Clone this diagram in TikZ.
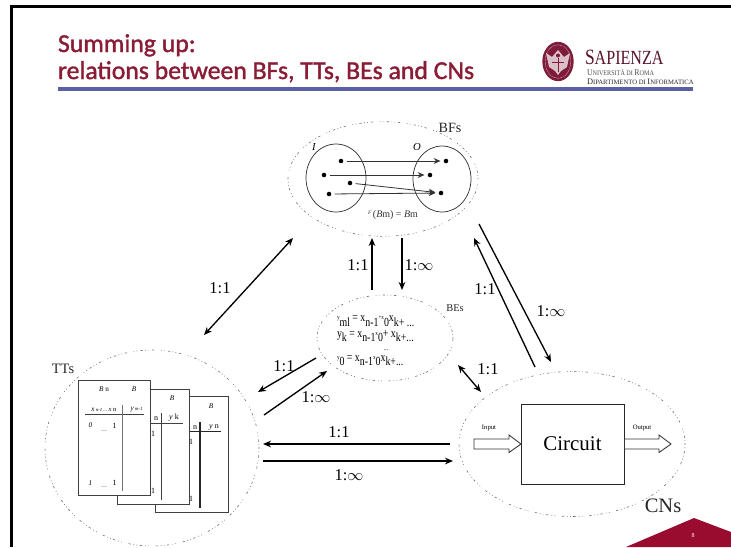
\documentclass[tikz,border=0pt]{standalone}
\usepackage{fontspec}
\setmainfont{Liberation Serif}
\newfontfamily\titlefont[FakeBold=1.4]{Carlito}
\usetikzlibrary{shapes.geometric,arrows.meta}
\definecolor{titlered}{HTML}{8A1C36}
\definecolor{sapred}{HTML}{9A0B30}
\definecolor{rulebl}{HTML}{5A60A4}
\definecolor{logored}{HTML}{7E1B3A}
\newcommand\fsz[1]{\fontsize{#1}{#1}\selectfont}
\newcommand\lo[1]{\raisebox{-3.4pt}{#1}}
\newcommand\sm[1]{\raisebox{1.2pt}{\fsz{4.5}#1}}
\newcommand\eqline[1]{\scalebox{0.86}[1.08]{#1}}
\tikzset{
  every node/.style={inner sep=0pt,outer sep=0pt},
  lbl/.style={font=\fsz{12.4}},
  dotell/.style={ellipse,draw=black!55,line width=0.45pt,dash pattern=on 0.6pt off 1.7pt on 0.6pt off 1.7pt on 1.8pt off 2.4pt on 0.6pt off 1.7pt on 0.6pt off 5pt on 1.8pt off 2pt},
  set/.style={ellipse,draw=black!80,line width=0.55pt},
  pt/.style={circle,fill=black,minimum size=3.4pt},
  maparrow/.style={-{Stealth[length=5pt,width=4.4pt]},line width=0.6pt,black!80},
  conn/.style={-{Stealth[length=6pt,width=5pt]},line width=1pt},
  conn2/.style={{Stealth[length=6pt,width=5pt]}-{Stealth[length=6pt,width=5pt]},line width=1pt},
  sheet/.style={rectangle,draw=black!75,fill=white,line width=0.6pt,anchor=north west},
  tt/.style={font=\fsz{5.4}\itshape},
  ttn/.style={font=\fsz{6}},
  eq/.style={font=\fsz{8.6},anchor=base west},
  blockarrow/.style={draw=black!80,fill=white,line width=0.65pt,line join=miter},
}
\begin{document}
\begin{tikzpicture}[x=0.75pt,y=-0.75pt]
\useasboundingbox (0,0) rectangle (731,547);
% frame
\draw[line width=1.6pt] (11.5,547) -- (11.5,6.5) -- (731,6.5);
% title
\node[anchor=base west,text=titlered,font=\titlefont\fsz{19.3}] (t1) at (58,52) {Summing up:};
\node[anchor=base west,text=titlered,font=\titlefont\fsz{19.3}] (t2) at (58,79) {relations between BFs, TTs, BEs and CNs};
\fill[rulebl] (58,87) rectangle (693,91);
% logo
\node[ellipse,fill=logored,minimum width=23.5pt,minimum height=29.5pt] (logo) at (558,61.5) {};
\draw[white!70!logored,line width=0.35pt,dash pattern=on 0.6pt off 0.5pt] (558,61.5) ellipse (12.8 and 16.8);
\fill[white!72!logored] (558,50) -- (564,57) -- (570,53) -- (567,67) -- (561,71) -- (558,75) -- (555,71) -- (549,67) -- (546,53) -- (552,57) -- cycle;
\fill[logored] (558,55.5) circle (2);
\draw[logored,line width=0.5pt] (558,58) -- (558,72) (552,62) -- (564,62);
\node[anchor=base west,font=\fsz{12.6},text=logored!70!black] (sap) at (585,64.5) {\scalebox{1.04}[1.3]{S\fsz{11.6}APIENZA}};
\node[anchor=base west,font=\fsz{6.3},text=black!70] (univ) at (587,75) {\scalebox{0.92}[1.05]{U\fsz{5}NIVERSITÀ DI \fsz{6.3}R\fsz{5}OMA}};
\node[anchor=base west,font=\fsz{6.3},text=black!85] (dip) at (587,84.5) {D\fsz{5}IPARTIMENTO DI \fsz{6.3}I\fsz{5}NFORMATICA};
% BFs
\node[dotell,minimum width=142.5pt,minimum height=86pt] (bf) at (383,179) {};
\node[set,minimum width=45pt,minimum height=51pt] (setI) at (336,178) {};
\node[set,minimum width=43.5pt,minimum height=49.5pt] (setO) at (442,179) {};
\node[font=\fsz{8}\itshape] (labI) at (314,147) {I};
\node[font=\fsz{8}\itshape] (labO) at (417,147) {O};
\node[font=\fsz{10.6},text=black!85] (labBF) at (450,128) {BFs};
\node[pt] (i1) at (341,161) {}; \node[pt] (i2) at (324,175) {}; \node[pt] (i3) at (350,183) {}; \node[pt] (i4) at (329,194) {};
\node[pt] (o1) at (446,161) {}; \node[pt] (o2) at (430,175) {}; \node[pt] (o3) at (441,193) {};
\draw[maparrow,shorten <=2.5pt,shorten >=2.5pt] (i1) -- (o1);
\draw[maparrow,shorten <=2.5pt,shorten >=2.5pt] (i2) -- (o2);
\draw[maparrow,shorten <=2.5pt,shorten >=2.5pt] (i3) -- (o3);
\draw[maparrow,shorten <=2.5pt,shorten >=2.5pt] (i4) -- (o3);
\node[font=\fsz{7.5},text=black!80] (fm) at (393,215) {\raisebox{2pt}{\fsz{4}\itshape F}\,({\itshape B}m) = {\itshape B}m};
% BEs
\node[dotell,minimum width=102pt,minimum height=64.5pt] (be) at (385,338) {};
\node[font=\fsz{7.8},text=black!85] (labBE) at (455,308) {BEs};
\node[eq] (e1) at (337,321.5) {\eqline{\sm{y}\lo{ml} = x\lo{n-1}\sm{+x}\lo{0}x\lo{k+ ...}}};
\node[eq] (e2) at (337,337) {\eqline{y\lo{k} = x\lo{n-1}\sm{x}\lo{0}+ x\lo{k+...}}};
\node[font=\fsz{5}] (e3) at (386,350) {...};
\node[eq] (e4) at (337,361) {\eqline{\sm{y}\lo{0} = x\lo{n-1}\sm{x}\lo{0}x\lo{k+...}}};
% TTs
\node[dotell,minimum width=160.5pt,minimum height=147pt] (tte) at (152,448) {};
\node[font=\fsz{10.8},text=black!85] (labTT) at (63,369) {TTs};
% sheet 3
\node[sheet,minimum width=54.75pt,minimum height=87pt] (s3) at (155,396) {};
\node[tt] (s3b) at (211,406.5) {B};
\node[ttn] (s3n) at (195,428) {n};
\node[ttn] (s3y) at (214,427) {\textit{y} n};
\draw[line width=0.9pt,black!85] (189,431.5) -- (221,431.5) (200,422) -- (200,508);
\node[ttn] (s3o) at (191,442) {1};
\node[ttn] (s3p) at (191,499) {1};
\node[ttn] (s3d) at (182,504) {...};
% sheet 2
\node[sheet,minimum width=54pt,minimum height=86.5pt] (s2) at (117,389) {};
\node[tt] (s2b) at (172,398.5) {B};
\node[ttn] (s2n) at (156,418.5) {n};
\node[ttn] (s2y) at (174,417.5) {\textit{y} k};
\draw[line width=0.6pt,black!75] (150,423.5) -- (183,423.5) (161.5,413) -- (161.5,500);
\node[ttn] (s2o) at (153,434) {1};
\node[ttn] (s2p) at (153,491) {1};
\node[ttn] (s2d) at (142,496) {...};
% sheet 1
\node[sheet,minimum width=54pt,minimum height=86.5pt] (s1) at (78,380) {};
\node[tt] (s1b1) at (104,389.5) {B \upshape n};
\node[tt] (s1b2) at (134,389.5) {B};
\node[tt] (s1x) at (104,409.5) {x\,\fsz{3.6}n-1 ... \fsz{5}x \upshape n};
\node[tt] (s1y) at (136.5,409.5) {y\,\fsz{3.6}m-1};
\draw[line width=0.6pt,black!75] (85,414.5) -- (144,414.5);
\draw[line width=0.6pt,black!55] (122.5,405) -- (122.5,491);
\node[tt] (s1a) at (90.5,425.5) {0};
\node[ttn] (s1c) at (114.5,425.5) {1};
\node[ttn,text=black!60] (s1d) at (104,431) {...};
\node[tt] (s1e) at (90.5,483) {1};
\node[ttn] (s1f) at (114.5,483) {1};
\node[ttn,text=black!60] (s1g) at (104,487.5) {...};
% CNs
\node[dotell,minimum width=169.5pt,minimum height=108.75pt] (cn) at (572,444) {};
\node[rectangle,draw=black!85,line width=0.7pt,minimum width=77.25pt,minimum height=60pt,font=\fsz{15.7}] (circ) at (572.5,444) {Circuit};
\node[font=\fsz{5}] (inl) at (489,428) {Input};
\node[font=\fsz{5}] (outl) at (642,428) {Output};
\draw[blockarrow] (474,439) -- (509,439) -- (509,435) -- (521,444) -- (509,452.5) -- (509,449) -- (474,449) -- cycle;
\draw[blockarrow] (624.5,439) -- (659,439) -- (659,435) -- (671,444) -- (659,452.5) -- (659,449) -- (624.5,449) -- cycle;
\node[font=\fsz{15.4},text=black!85] (labCN) at (663,506) {CNs};
% named connector ends
\coordinate (bfSW) at (293,238); \coordinate (ttNE) at (204,335);
\coordinate (beN1) at (372,290); \coordinate (bfS1) at (372,238);
\coordinate (bfS2) at (402,238); \coordinate (beN2) at (402,290);
\coordinate (bfSE1) at (479,224); \coordinate (cnN1) at (551,362);
\coordinate (cnN2) at (535,367); \coordinate (bfSE2) at (474,238);
\coordinate (beW1) at (316,358); \coordinate (ttE1) at (258,392);
\coordinate (ttE2) at (264,415); \coordinate (beW2) at (327,371);
\coordinate (beSE) at (458,365); \coordinate (cnNW) at (481,392);
\coordinate (cnW1) at (450,444); \coordinate (ttE3) at (263,444);
\coordinate (ttE4) at (263,461); \coordinate (cnW2) at (453,461);
\draw[conn2] (bfSW) -- (ttNE);
\draw[conn] (beN1) -- (bfS1);
\draw[conn] (bfS2) -- (beN2);
\draw[conn] (bfSE1) -- (cnN1);
\draw[conn] (cnN2) -- (bfSE2);
\draw[conn] (beW1) -- (ttE1);
\draw[conn] (ttE2) -- (beW2);
\draw[conn2] (beSE) -- (cnNW);
\draw[conn] (cnW1) -- (ttE3);
\draw[conn] (ttE4) -- (cnW2);
% labels
\node[lbl] (l1) at (220,288) {1:1};
\node[lbl] (l2) at (358,265) {1:1};
\node[lbl] (l3) at (419,265) {1:$\infty$};
\node[lbl] (l4) at (485,289) {1:1};
\node[lbl] (l5) at (551,311) {1:$\infty$};
\node[lbl] (l6) at (284,366) {1:1};
\node[lbl] (l7) at (316,397) {1:$\infty$};
\node[lbl] (l8) at (488,369) {1:1};
\node[lbl] (l9) at (339,432) {1:1};
\node[lbl] (l10) at (349,475) {1:$\infty$};
% corner
\fill[sapred] (626,547) -- (694,518) -- (731,532) -- (731,547) -- cycle;
\node[font=\fsz{4.5},text=white] (pg) at (693,535.5) {8};
\end{tikzpicture}
\end{document}
